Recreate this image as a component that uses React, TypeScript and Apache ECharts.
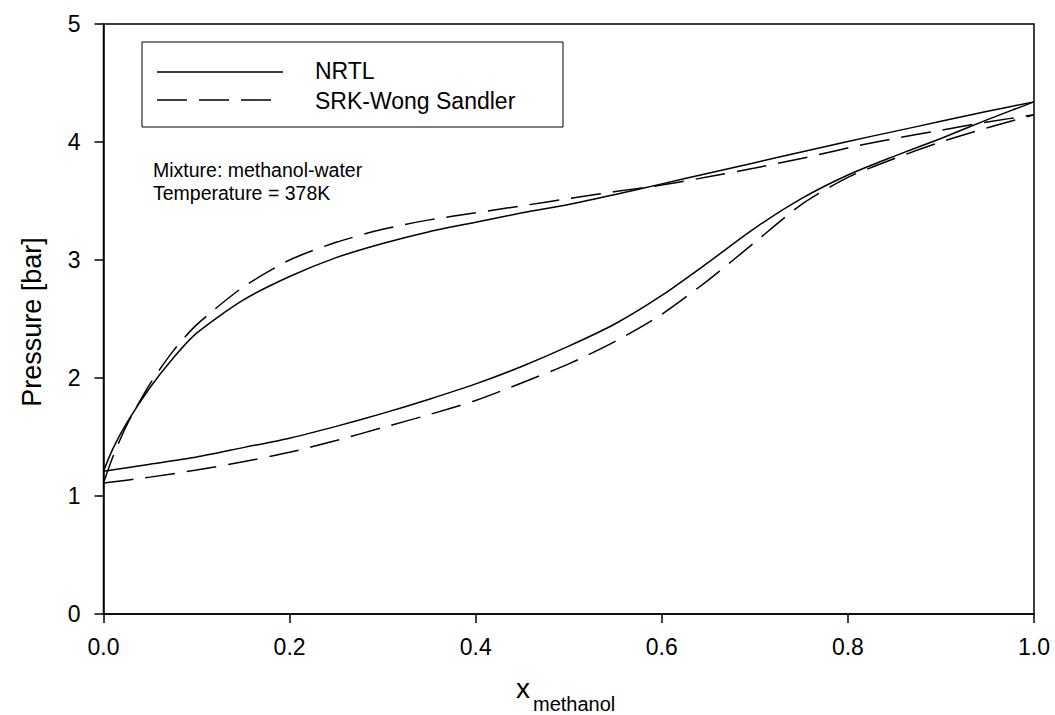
import React, { useEffect, useRef } from "react";
import * as echarts from "echarts";

// Liquid mole fraction grid (bubble curves) and vapour grid (dew curves)
const xBubble = [0, 0.05, 0.1, 0.15, 0.2, 0.25, 0.3, 0.35, 0.4, 0.45, 0.5, 0.55, 0.6, 0.65, 0.7, 0.75, 0.8, 0.85, 0.9, 0.95, 1.0];
const xDew = [0, 0.01, 0.025, 0.05, 0.075, 0.1, 0.15, 0.2, 0.25, 0.3, 0.35, 0.4, 0.45, 0.5, 0.55, 0.6, 0.65, 0.7, 0.75, 0.8, 0.85, 0.9, 0.95, 1.0];

// NRTL
const nrtlBubble = [1.21, 1.27, 1.33, 1.41, 1.49, 1.59, 1.70, 1.82, 1.95, 2.10, 2.27, 2.46, 2.70, 2.98, 3.27, 3.52, 3.72, 3.88, 4.03, 4.19, 4.34];
const nrtlDew = [1.21, 1.40, 1.62, 1.92, 2.17, 2.38, 2.66, 2.86, 3.02, 3.14, 3.24, 3.32, 3.40, 3.47, 3.555, 3.645, 3.735, 3.825, 3.915, 4.005, 4.09, 4.175, 4.26, 4.34];

// SRK-Wong Sandler
const srkBubble = [1.11, 1.16, 1.22, 1.29, 1.37, 1.47, 1.58, 1.69, 1.81, 1.96, 2.12, 2.31, 2.54, 2.83, 3.15, 3.47, 3.70, 3.86, 4.00, 4.12, 4.23];
const srkDew = [1.11, 1.33, 1.60, 1.95, 2.23, 2.45, 2.77, 3.00, 3.15, 3.26, 3.34, 3.40, 3.46, 3.52, 3.58, 3.635, 3.705, 3.78, 3.86, 3.95, 4.03, 4.10, 4.17, 4.23];

const legendNames = ["NRTL", "SRK-Wong Sandler"];
const xTicks = [0, 0.2, 0.4, 0.6, 0.8, 1.0];
const yTicks = [0, 1, 2, 3, 4, 5];
const annotation = ["Mixture: methanol-water", "Temperature = 378K"];

const FONT = "'Liberation Sans', Arial, sans-serif";
const DASH = [30, 12];

function pairs(xs: number[], ys: number[]) {
  return xs.map((x, i) => [x, ys[i]]);
}

export default function App() {
  const ref = useRef<HTMLDivElement>(null);
  useEffect(() => {
    document.body.style.margin = "0";
    if (!ref.current) return;
    const chart = echarts.init(ref.current, null, { renderer: "svg" });
    const solid = { color: "#000", width: 1.5, type: "solid" as const };
    const dashed = { color: "#000", width: 1.5, type: DASH as any };
    const common = {
      type: "line" as const,
      showSymbol: false,
      symbol: "none",
      smooth: 0.25,
      color: "#000",
    };
    chart.setOption({
      animation: false,
      backgroundColor: "#fff",
      textStyle: { fontFamily: FONT },
      grid: {
        left: 103.5,
        right: 21,
        top: 24,
        bottom: 101,
        show: true,
        borderColor: "#000",
        borderWidth: 1.5,
        backgroundColor: "transparent",
      },
      xAxis: {
        type: "value",
        min: 0,
        max: 1,
        interval: 0.2,
        axisLine: { show: true, lineStyle: { color: "#000", width: 1.5 } },
        axisTick: { show: true, inside: false, length: 9, lineStyle: { color: "#000", width: 1.5 } },
        splitLine: { show: false },
        axisLabel: {
          margin: 21,
          fontSize: 23,
          color: "#000",
          fontFamily: FONT,
          formatter: (v: number) => (xTicks.includes(Math.round(v * 10) / 10) ? v.toFixed(1) : ""),
        },
      },
      yAxis: {
        type: "value",
        min: 0,
        max: 5,
        interval: 1,
        axisLine: { show: true, lineStyle: { color: "#000", width: 1.5 } },
        axisTick: { show: true, inside: false, length: 9, lineStyle: { color: "#000", width: 1.5 } },
        splitLine: { show: false },
        axisLabel: {
          margin: 23,
          fontSize: 23,
          color: "#000",
          fontFamily: FONT,
          formatter: (v: number) => (yTicks.includes(v) ? String(v) : ""),
        },
      },
      graphic: [
        // legend box
        {
          type: "rect",
          shape: { x: 142, y: 42, width: 421, height: 85 },
          style: { fill: "#fff", stroke: "#000", lineWidth: 1 },
          z: 10,
        },
        {
          type: "line",
          shape: { x1: 157, y1: 72, x2: 283, y2: 72 },
          style: { stroke: "#000", lineWidth: 1.5 },
          z: 11,
        },
        {
          type: "line",
          shape: { x1: 157, y1: 100, x2: 272, y2: 100 },
          style: { stroke: "#000", lineWidth: 1.5, lineDash: DASH },
          z: 11,
        },
        {
          type: "text",
          x: 315,
          y: 71,
          z: 11,
          style: { text: legendNames[0], fontSize: 23, fontFamily: FONT, fill: "#000", verticalAlign: "middle" },
        },
        {
          type: "text",
          x: 315,
          y: 101,
          z: 11,
          style: { text: legendNames[1], fontSize: 23, fontFamily: FONT, fill: "#000", verticalAlign: "middle" },
        },
        // annotation
        {
          type: "text",
          x: 153,
          y: 170,
          style: { text: annotation[0], fontSize: 19.5, fontFamily: FONT, fill: "#000", verticalAlign: "middle" },
        },
        {
          type: "text",
          x: 153,
          y: 193,
          style: { text: annotation[1], fontSize: 19.5, fontFamily: FONT, fill: "#000", verticalAlign: "middle" },
        },
        // axis titles
        {
          type: "text",
          x: 32,
          y: 322,
          rotation: Math.PI / 2,
          style: { text: "Pressure [bar]", fontSize: 27, fontFamily: FONT, fill: "#000", align: "center", verticalAlign: "middle" },
        },
        {
          type: "text",
          x: 516,
          y: 702,
          style: { text: "x", fontSize: 28, fontFamily: FONT, fill: "#000", verticalAlign: "bottom" },
        },
        {
          type: "text",
          x: 533,
          y: 714,
          style: { text: "methanol", fontSize: 20, fontFamily: FONT, fill: "#000", verticalAlign: "bottom" },
        },
      ],
      series: [
        { ...common, name: legendNames[0], data: pairs(xBubble, nrtlBubble), lineStyle: solid },
        { ...common, name: legendNames[0], data: pairs(xDew, nrtlDew), lineStyle: solid },
        { ...common, name: legendNames[1], data: pairs(xBubble, srkBubble), lineStyle: dashed },
        { ...common, name: legendNames[1], data: pairs(xDew, srkDew), lineStyle: dashed },
      ],
    });
    return () => chart.dispose();
  }, []);
  return <div ref={ref} style={{ width: 1055, height: 715 }} />;
}
